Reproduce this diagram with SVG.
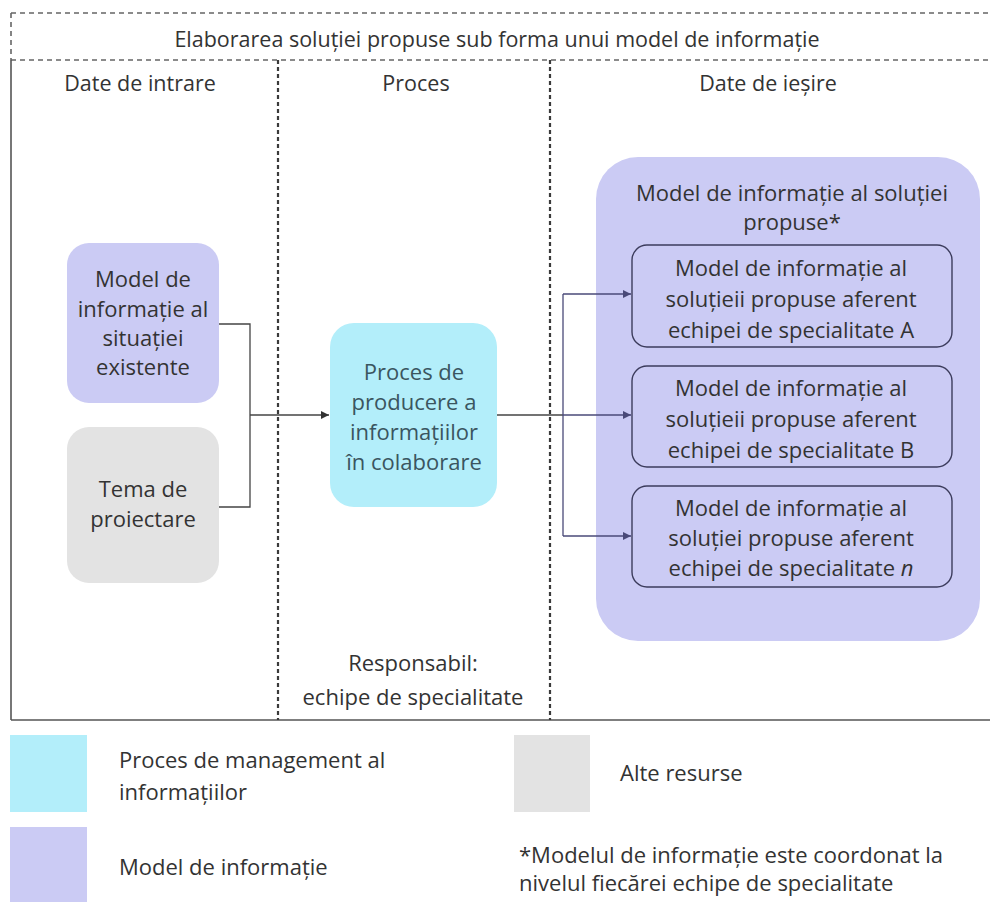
<svg xmlns="http://www.w3.org/2000/svg" width="990" height="902" viewBox="0 0 990 902">
  <style>
    text { font-family: "Open Sans", "Noto Sans", "Liberation Sans", sans-serif; fill: #333; text-anchor: middle; }
    .t { font-size: 22px; }
    .h { font-size: 21.5px; }
    .lg { font-size: 22px; text-anchor: start; }
    .pt { fill: #3a5560; }
    .frame { fill: none; stroke: #555; stroke-width: 1.6; }
    .dash { fill: none; stroke: #666; stroke-width: 1.6; stroke-dasharray: 5 4; }
    .dot { fill: none; stroke: #3a3a3a; stroke-width: 2.2; stroke-dasharray: 4 3; }
    .purple { fill: #cbcbf4; }
    .cyan { fill: #b3eefa; }
    .grey { fill: #e3e3e3; }
    .inner { fill: #cbcbf4; stroke: #3c3c5c; stroke-width: 1.4; }
    .conn { fill: none; stroke: #444; stroke-width: 1.3; }
    .connB { fill: none; stroke: #4a4a78; stroke-width: 1.3; }
  </style>
  <defs>
    <marker id="arr" viewBox="0 0 10 10" refX="10" refY="5" markerWidth="8" markerHeight="8" orient="auto" markerUnits="userSpaceOnUse">
      <path d="M0,0 L10,5 L0,10 z" fill="#333"/>
    </marker>
    <marker id="arrB" viewBox="0 0 10 10" refX="10" refY="5" markerWidth="8" markerHeight="8" orient="auto" markerUnits="userSpaceOnUse">
      <path d="M0,0 L10,5 L0,10 z" fill="#4a4a78"/>
    </marker>
  </defs>

  <!-- outer frame, header row and column dividers -->
  <g id="frame">
    <line class="dash" x1="11" y1="13" x2="990" y2="13"/>
    <line class="dash" x1="11" y1="13" x2="11" y2="60"/>
    <line class="dash" x1="11" y1="60" x2="990" y2="60"/>
    <line class="frame" x1="11" y1="60" x2="11" y2="720"/>
    <line class="frame" x1="11" y1="720" x2="990" y2="720"/>
    <line class="dot" x1="278" y1="60" x2="278" y2="720"/>
    <line class="dot" x1="550" y1="60" x2="550" y2="720"/>
    <text class="h" x="497" y="47">Elaborarea soluției propuse sub forma unui model de informație</text>
    <text class="h" x="140" y="91">Date de intrare</text>
    <text class="h" x="416" y="91">Proces</text>
    <text class="h" x="768" y="91">Date de ieșire</text>
  </g>

  <!-- inputs -->
  <g id="model-existent">
    <rect class="purple" x="67" y="243" width="152" height="160" rx="22"/>
    <text class="t" x="143" y="287">Model de</text>
    <text class="t" x="143" y="317">informație al</text>
    <text class="t" x="143" y="346">situației</text>
    <text class="t" x="143" y="375">existente</text>
  </g>
  <g id="tema">
    <rect class="grey" x="67" y="427" width="152" height="156" rx="22"/>
    <text class="t" x="143" y="497">Tema de</text>
    <text class="t" x="143" y="527">proiectare</text>
  </g>

  <!-- process -->
  <g id="proces">
    <rect class="cyan" x="330" y="323" width="167" height="184" rx="24"/>
    <text class="t pt" x="414" y="380">Proces de</text>
    <text class="t pt" x="414" y="410">producere a</text>
    <text class="t pt" x="414" y="440">informațiilor</text>
    <text class="t pt" x="414" y="470">în colaborare</text>
  </g>
  <g id="responsabil">
    <text class="t" x="413" y="671">Responsabil:</text>
    <text class="t" x="413" y="705">echipe de specialitate</text>
  </g>

  <!-- outputs -->
  <g id="model-propus">
    <rect class="purple" x="596" y="157" width="384" height="484" rx="42"/>
    <text class="t" x="792" y="201">Model de informație al soluției</text>
    <text class="t" x="792" y="230">propuse*</text>
  </g>
  <g id="model-A">
    <rect class="inner" x="632" y="245" width="320" height="102" rx="15"/>
    <text class="t" x="791" y="276">Model de informație al</text>
    <text class="t" x="791" y="307">soluțieii propuse aferent</text>
    <text class="t" x="791" y="338">echipei de specialitate A</text>
  </g>
  <g id="model-B">
    <rect class="inner" x="632" y="366" width="320" height="101" rx="15"/>
    <text class="t" x="791" y="396">Model de informație al</text>
    <text class="t" x="791" y="427">soluțieii propuse aferent</text>
    <text class="t" x="791" y="458">echipei de specialitate B</text>
  </g>
  <g id="model-n">
    <rect class="inner" x="632" y="486" width="320" height="101" rx="15"/>
    <text class="t" x="791" y="516">Model de informație al</text>
    <text class="t" x="791" y="546">soluției propuse aferent</text>
    <text class="t" x="791" y="576">echipei de specialitate <tspan font-style="italic">n</tspan></text>
  </g>

  <!-- connectors -->
  <g id="connectors">
    <polyline class="conn" points="219,324 250,324 250,507 219,507"/>
    <line class="conn" x1="250" y1="415" x2="329" y2="415" marker-end="url(#arr)"/>
    <line class="conn" x1="497" y1="415" x2="563" y2="415"/>
    <polyline class="connB" points="563,294 563,536"/>
    <line class="connB" x1="563" y1="294" x2="631" y2="294" marker-end="url(#arrB)"/>
    <line class="connB" x1="563" y1="415" x2="631" y2="415" marker-end="url(#arrB)"/>
    <line class="connB" x1="563" y1="536" x2="631" y2="536" marker-end="url(#arrB)"/>
  </g>

  <!-- legend -->
  <g id="legend">
    <rect class="cyan" x="10" y="735" width="77" height="77"/>
    <text class="lg" x="119" y="768">Proces de management al</text>
    <text class="lg" x="119" y="800">informațiilor</text>
    <rect class="purple" x="10" y="827" width="77" height="75"/>
    <text class="lg" x="119" y="875">Model de informație</text>
    <rect class="grey" x="514" y="735" width="76" height="77"/>
    <text class="lg" x="620" y="781">Alte resurse</text>
    <text class="lg" x="519" y="863">*Modelul de informație este coordonat la</text>
    <text class="lg" x="519" y="891">nivelul fiecărei echipe de specialitate</text>
  </g>
</svg>
